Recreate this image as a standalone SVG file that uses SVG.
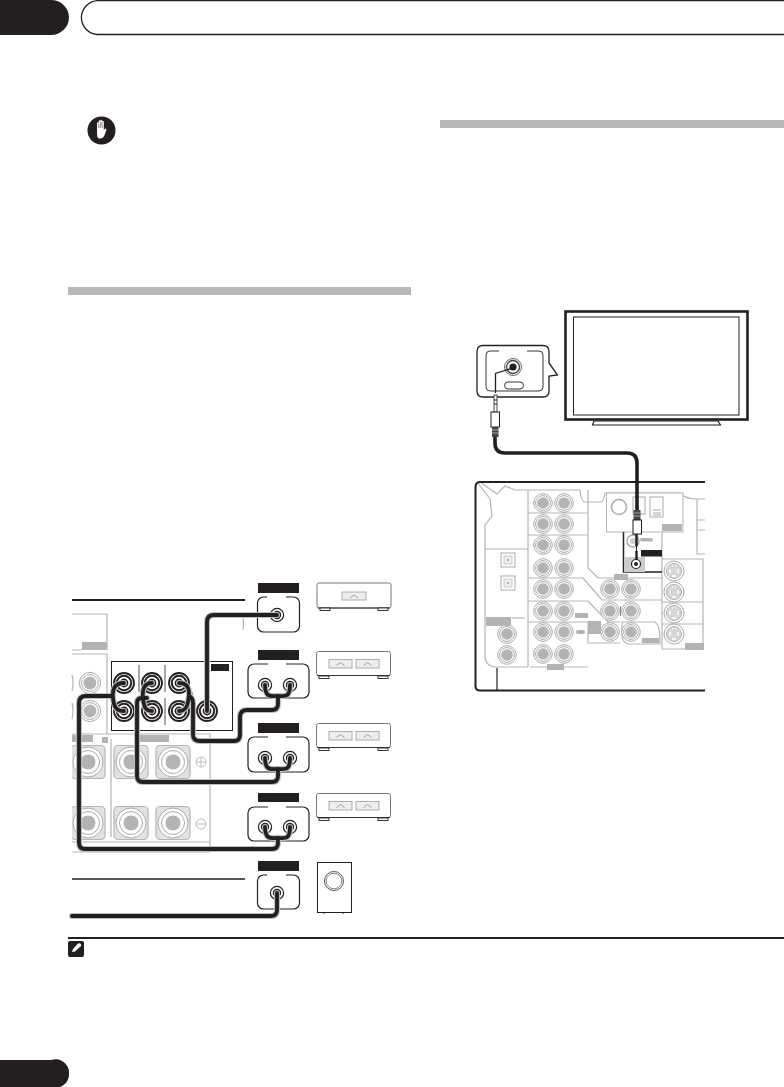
<svg xmlns="http://www.w3.org/2000/svg" xmlns:xlink="http://www.w3.org/1999/xlink" width="784" height="1087" viewBox="0 0 784 1087">
<style>
.g{fill:none;stroke:#b5b5b5;stroke-width:1.2}
.lab{fill:#b3b3b3}
.k{fill:#231f20}
.box{fill:#fff;stroke:#231f20;stroke-width:1.2}
.spk{fill:#fff;stroke:#777;stroke-width:1}
.meter{fill:#eee;stroke:#999;stroke-width:.8}
.foot{fill:#fff;stroke:#333;stroke-width:1}
.halo{fill:none;stroke:#bdbdbd;stroke-width:6;stroke-linecap:round;stroke-linejoin:round}
.cable{fill:none;stroke:#231f20;stroke-width:3.8;stroke-linecap:round;stroke-linejoin:round}
.cable2{fill:none;stroke:#231f20;stroke-width:3.6;stroke-linecap:round}
</style>
<defs>
<g id="gjack"><circle r="9.3" fill="#fff" stroke="#aaa" stroke-width="1"/><circle r="7.4" fill="#fff" stroke="#aaa" stroke-width="1"/><circle r="5.8" fill="#b3b3b3"/></g>
<g id="bigjack"><circle r="10.6" fill="#fff" stroke="#aaa" stroke-width="1"/><circle r="8.4" fill="#fff" stroke="#aaa" stroke-width="1"/><circle r="6.4" fill="#b3b3b3"/></g>
<g id="term"><rect x="-17" y="-16.5" width="34" height="33" rx="4" fill="#e2e2e2" stroke="#b5b5b5" stroke-width="1.2"/><circle r="15" fill="#fff" stroke="#aaa" stroke-width="1"/><circle r="11.5" fill="#fff" stroke="#aaa" stroke-width="1"/><circle r="8" fill="#b3b3b3" stroke="#fff" stroke-width="1"/></g>
<g id="kjack"><circle r="10" fill="#fff" stroke="#231f20" stroke-width="1.8"/><circle r="7.2" fill="#fff" stroke="#231f20" stroke-width="2"/><circle r="4.4" fill="#231f20"/></g>
<g id="sjack"><circle r="6.6" fill="#fff" stroke="#231f20" stroke-width="1.2"/><circle r="4.2" fill="#231f20"/></g>
<g id="svid"><circle r="10" fill="#fff" stroke="#aaa" stroke-width="1"/><circle r="7.6" fill="#d6d6d6" stroke="#aaa" stroke-width=".8"/><path d="M-4,-2v4M4,-2v4M-2,-5h1M1,-5h1M-2,5h4" stroke="#fff" stroke-width="1.4"/></g>
<g id="opt"><rect x="-7" y="-7" width="14" height="14" fill="#fff" stroke="#aaa"/><rect x="-4" y="-4" width="8" height="8" fill="#eee" stroke="#bbb" stroke-width=".7"/><circle r="1" fill="#999"/></g>
<g id="spk2"><rect class="spk" x="0.5" y="0.5" width="74" height="24" rx="2"/><rect class="foot" x="3" y="25" width="10" height="2.5"/><rect class="foot" x="62" y="25" width="10" height="2.5"/><path d="M1,24.5H74" stroke="#333" stroke-width="1"/><rect class="meter" x="13" y="8.5" width="23" height="8.5"/><rect class="meter" x="40" y="8.5" width="23" height="8.5"/><path d="M20.500,14.500l4,-3l4,3M47.500,14.500l4,-3l4,3" fill="none" stroke="#777" stroke-width=".7"/></g>
<path id="c1" d="M277,615H214Q207,615 207,622V711"/>
<path id="c2" d="M265,685C265,698 271,696 278,696C285,696 290,698 290,685M278,696V704Q278,710 272,710H247Q240,710 240,717V735Q240,741 234,741H200Q193,741 193,735V703Q193,698 189,696M179,683C190,683 190,692 188,702C187,708 185,711 179,711"/>
<path id="c3" d="M265,758C265,771 271,769 278,769C285,769 290,771 290,758M278,769V776Q278,782 272,782H143Q137,782 137,776V703Q137,698 142,698H147M152,683C144,683 142,690 143,698C144,708 146,711 152,711"/>
<path id="c4" d="M265,827C265,840 271,838 278,838C285,838 290,840 290,827M278,838V843Q278,849 272,849H85Q79,849 79,843V703Q79,696 86,696H110M124,683C114,683 112,690 113,698C114,707 116,711 124,711"/>
<path id="c5" d="M277,893V910Q277,916 271,916H72"/>
<path id="c6" d="M495,437V443Q495,453 505,453H627Q637,453 637,463V510"/>
</defs>
<rect width="784" height="1087" fill="#fff"/>

<g id="page-header">
<path class="k" d="M0,0H51A18,17.500 0 0 1 51,35H0Z"/>
<path d="M784,.7H97A17.500,17 0 0 0 97,34.500H784" fill="none" stroke="#231f20" stroke-width="1.300"/>
</g>
<g id="page-number"><path class="k" d="M0,1060H51A13.500,13.500 0 0 1 69,1073.500A13.500,13.500 0 0 1 51,1087H0Z"/></g>
<g id="caution-icon">
<circle cx="101.500" cy="130.500" r="14" class="k"/>
<path d="M97,133V123q.8,-1.300 1.700,0V121q.8,-1.300 1.700,0V120.500q.8,-1.300 1.700,0V121.500q.8,-1.300 1.700,0V130l1.400,-1.500q1.500,0 1.200,1.300l-1.800,5.200q-1.500,3.500 -4.500,3.500h-1.500q-1.600,-1 -1.600,-4.500Z" fill="#fff"/>
<path d="M98.700,123.500V128M100.400,122V128M102.100,122V128" stroke="#231f20" stroke-width=".5"/>
</g>
<g id="section-bars">
<rect x="68" y="287" width="343" height="8" fill="#b7b7b7"/>
<rect x="440" y="120" width="344" height="8" fill="#b7b7b7"/>
</g>
<g id="note">
<rect x="68" y="937" width="716" height="2" fill="#231f20"/>
<rect x="68" y="941" width="16" height="16" rx="2" class="k"/>
<path d="M72,952l1,-3l5,-5.500q2,-1 3,1q.5,1 -.5,2l-5.500,5Z" fill="#fff"/>
</g>

<g id="receiver-left">
<path class="g" d="M72,614H107V650M72,654H107V734M72,650H82"/>
<rect class="lab" x="82" y="642" width="25" height="8"/>
<use xlink:href="#bigjack" x="90" y="683"/>
<use xlink:href="#bigjack" x="90" y="711"/>
<path class="g" d="M72,675q2,8 0,16M72,703q2,8 0,16M72,734H210V847M111,739V837M72,842H210M72,852H210M243,617q1,7 0,13"/>
<rect class="lab" x="72" y="735" width="21" height="7"/>
<rect class="lab" x="102" y="737" width="6" height="6"/>
<rect class="lab" x="137" y="735" width="32" height="7"/>
<use xlink:href="#term" x="88" y="762"/><use xlink:href="#term" x="131" y="762"/><use xlink:href="#term" x="173" y="762"/>
<use xlink:href="#term" x="88" y="823"/><use xlink:href="#term" x="131" y="823"/><use xlink:href="#term" x="173" y="823"/>
<rect x="60" y="740" width="12" height="105" fill="#fff"/>
<circle cx="201" cy="762" r="5" fill="none" stroke="#bbb"/><path d="M196,762H206M201,757V767" stroke="#bbb"/>
<circle cx="201" cy="824" r="5" fill="none" stroke="#bbb"/><path d="M196,824H206" stroke="#bbb"/>
<path d="M72,600H245" stroke="#231f20" stroke-width="2"/>
<path d="M72,879H245" stroke="#231f20" stroke-width="1.600"/>
</g>
<g id="output-block">
<rect x="111.500" y="661.500" width="121" height="69" fill="#fff" stroke="#231f20" stroke-width="1"/>
<rect class="k" x="211" y="664" width="18" height="7"/>
<path d="M139,665V692M139,698V725M165,665V692M165,698V725M192,692V697" stroke="#231f20" stroke-width=".8"/>
<use xlink:href="#kjack" x="124" y="683"/><use xlink:href="#kjack" x="152" y="683"/><use xlink:href="#kjack" x="179" y="683"/>
<use xlink:href="#kjack" x="124" y="711"/><use xlink:href="#kjack" x="152" y="711"/><use xlink:href="#kjack" x="179" y="711"/><use xlink:href="#kjack" x="207" y="711"/>
</g>
<g id="center-speaker">
<rect class="k" x="258" y="583" width="41" height="10"/>
<rect class="box" x="257.500" y="597" width="42" height="35" rx="6"/><path d="M267,597H286" stroke="#fff" stroke-width="2"/>
<use xlink:href="#sjack" x="277" y="615"/>
<rect class="spk" x="317" y="583" width="74" height="25" rx="2"/><path d="M318,608H390" stroke="#333"/><rect class="foot" x="320" y="608" width="10" height="2.500"/><rect class="foot" x="378" y="608" width="10" height="2.500"/>
<rect class="meter" x="342" y="592" width="24" height="8"/><path d="M350,598l4,-3l4,3" fill="none" stroke="#777" stroke-width=".7"/>
</g>
<g id="front-speaker">
<rect class="k" x="258" y="650" width="41" height="10"/>
<rect class="box" x="248" y="664" width="61" height="34" rx="6"/><path d="M268,664H286" stroke="#fff" stroke-width="2"/>
<use xlink:href="#sjack" x="265" y="685"/><use xlink:href="#sjack" x="290" y="685"/>
<use xlink:href="#spk2" x="316" y="651"/>
</g>
<g id="surround-speaker">
<rect class="k" x="258" y="723" width="41" height="10"/>
<rect class="box" x="248" y="737" width="61" height="35" rx="6"/><path d="M268,737H286" stroke="#fff" stroke-width="2"/>
<use xlink:href="#sjack" x="265" y="758"/><use xlink:href="#sjack" x="290" y="758"/>
<use xlink:href="#spk2" x="316" y="723"/>
</g>
<g id="back-speaker">
<rect class="k" x="258" y="793" width="41" height="9"/>
<rect class="box" x="248" y="807" width="61" height="34" rx="6"/><path d="M268,807H286" stroke="#fff" stroke-width="2"/>
<use xlink:href="#sjack" x="265" y="827"/><use xlink:href="#sjack" x="290" y="827"/>
<use xlink:href="#spk2" x="316" y="793"/>
</g>
<g id="subwoofer">
<rect class="k" x="258" y="861" width="41" height="10"/>
<rect class="box" x="257.500" y="875" width="42" height="34" rx="6"/><path d="M267,875H286" stroke="#fff" stroke-width="2"/>
<use xlink:href="#sjack" x="277" y="893"/>
<rect x="317.500" y="862.500" width="34" height="50" fill="#fff" stroke="#231f20"/>
<circle cx="334" cy="881" r="9.500" fill="#fff" stroke="#555"/><circle cx="334" cy="881" r="7.800" fill="#fff" stroke="#888"/>
<path d="M324,913v1M343,913v1" stroke="#555"/>
</g>

<g id="tv">
<rect x="565.500" y="311.500" width="182" height="108" fill="#fff" stroke="#231f20" stroke-width="2.600"/>
<rect x="573.500" y="317" width="165.500" height="98" fill="#fff" stroke="#231f20" stroke-width="1"/>
<path d="M594,421H718L720.500,425H592.500Z" fill="#fff" stroke="#231f20" stroke-width="1.200"/>
</g>
<g id="tv-callout">
<path d="M483,345.500H543Q549,345.500 549,351.500V363L557.500,375L549,376V391Q549,397 543,397H483Q477,397 477,391V351.500Q477,345.500 483,345.500Z" fill="#fff" stroke="#231f20" stroke-width="1.300"/>
<path d="M499,351H490Q486,351 486,355V387Q486,391 490,391H539Q543,391 543,387V355Q543,351 539,351H527" fill="none" stroke="#231f20" stroke-width=".9"/>
<circle cx="513" cy="367" r="8.500" fill="#fff" stroke="#666" stroke-width="1"/><circle cx="513" cy="367" r="6.500" fill="#fff" stroke="#444" stroke-width="1.400"/><circle cx="513" cy="367" r="3.600" fill="#231f20"/>
<rect x="504.500" y="382" width="19" height="7" rx="3.500" fill="#fff" stroke="#231f20" stroke-width=".9"/>
<path d="M511,368.500L495.500,373.500V393" fill="none" stroke="#231f20" stroke-width="1.300"/>
</g>

<g id="receiver-right">
<path class="g" d="M478,483L490,499L492,516L485,525V655Q485,667 497,667H528M480,482L497,494L505,486L515,490H580Q581,502 585,502H600Q604,502 605,493H680Q685,499 697,499H705M528,490V667M528,513H588M528,535H588M528,578H583M528,601H588M528,622H588M485,549H528M588,490V568L598,578H662M583,578L602,600H662M588,601L608,622H620M530,667H588M588,622V643H620M622,622H655Q660,625 660,640V644H628Q622,642 622,635ZM697,499V554H705M697,520H705M697,530H705M662,532V649H703V559H662M662,602H703M662,624H703"/>
<rect x="606.500" y="493" width="76.500" height="39" fill="#fff" stroke="#b5b5b5"/>
<circle cx="619" cy="507" r="7.500" fill="#fff" stroke="#aaa" stroke-width="1.500"/>
<rect x="633" y="497" width="12" height="17" fill="#fff" stroke="#aaa"/><rect x="650" y="497" width="13" height="20" fill="#fff" stroke="#aaa"/><path d="M636,514h6M653,510h8M653,513h8M653,515h8" stroke="#aaa"/>
<rect class="lab" x="662" y="524" width="20" height="7"/>
<use xlink:href="#gjack" x="543" y="503"/><use xlink:href="#gjack" x="564" y="503"/>
<use xlink:href="#gjack" x="543" y="524"/><use xlink:href="#gjack" x="564" y="524"/>
<use xlink:href="#gjack" x="543" y="545"/><use xlink:href="#gjack" x="564" y="545"/>
<use xlink:href="#gjack" x="543" y="568"/><use xlink:href="#gjack" x="564" y="568"/>
<use xlink:href="#gjack" x="543" y="589"/><use xlink:href="#gjack" x="564" y="589"/>
<use xlink:href="#gjack" x="543" y="611"/><use xlink:href="#gjack" x="564" y="611"/>
<use xlink:href="#gjack" x="543" y="632"/><use xlink:href="#gjack" x="564" y="632"/>
<use xlink:href="#gjack" x="543" y="654"/><use xlink:href="#gjack" x="564" y="654"/>
<use xlink:href="#gjack" x="610" y="589"/><use xlink:href="#gjack" x="631" y="589"/>
<use xlink:href="#gjack" x="610" y="611"/><use xlink:href="#gjack" x="631" y="611"/>
<use xlink:href="#gjack" x="610" y="632"/><use xlink:href="#gjack" x="631" y="632"/>
<use xlink:href="#gjack" x="507" y="634"/><use xlink:href="#gjack" x="507" y="655"/>
<path d="M620.500,606V616" stroke="#888"/>
<use xlink:href="#opt" x="508" y="560"/><use xlink:href="#opt" x="508" y="583"/>
<use xlink:href="#svid" x="674" y="571"/><use xlink:href="#svid" x="674" y="592"/><use xlink:href="#svid" x="674" y="613"/><use xlink:href="#svid" x="674" y="634"/>
<rect class="lab" x="685" y="643" width="19" height="7"/>
<rect class="lab" x="614" y="574" width="14" height="6"/>
<rect class="lab" x="575" y="613" width="13" height="5"/>
<rect class="lab" x="588" y="621" width="13" height="13"/>
<rect class="lab" x="576" y="630" width="9" height="4" rx="2"/>
<rect class="lab" x="547" y="664" width="17" height="6"/>
<rect class="lab" x="642" y="638" width="17" height="5"/>
<rect class="lab" x="486" y="617" width="25" height="9"/>
<path class="g" d="M512,618H525"/>
<path d="M705,482H480Q475.500,482 475.500,487V686Q475.500,690.500 480,690.500H705" fill="none" stroke="#231f20" stroke-width="2"/>
<path d="M497,668V690" stroke="#231f20" stroke-width="1.200"/>
</g>
<g id="ir-block">
<path d="M623.500,532V572H662" fill="none" stroke="#231f20" stroke-width="1.500"/>
<rect x="624" y="557" width="21" height="15" fill="#ccc"/>
<circle cx="633" cy="541" r="6" fill="#fff" stroke="#aaa" stroke-width="1.500"/><circle cx="633" cy="541" r="3" fill="#ccc"/>
<rect class="lab" x="640" y="538" width="13" height="3.500" rx="1.700"/>
<rect class="k" x="641" y="550" width="21" height="6.500"/>
<circle cx="636" cy="564" r="4.500" fill="#fff" stroke="#231f20" stroke-width="1.200"/><circle cx="636" cy="564" r="2" fill="#231f20"/>
</g>

<g id="connectors">
<g class="halo">
<use xlink:href="#c1"/><use xlink:href="#c2"/><use xlink:href="#c3"/><use xlink:href="#c4"/><use xlink:href="#c5"/>
</g>
<g class="cable">
<use xlink:href="#c1"/><use xlink:href="#c2"/><use xlink:href="#c3"/><use xlink:href="#c4"/><use xlink:href="#c5"/>
</g>
<g class="cable2"><use xlink:href="#c6"/></g>
<g id="plug-tv">
<rect x="494" y="395" width="3" height="17" fill="#fff" stroke="#231f20" stroke-width=".8"/>
<path d="M494,400h3M494,404h3" stroke="#231f20"/>
<rect x="491" y="412" width="8.500" height="15" fill="#fff" stroke="#231f20"/>
<rect x="492" y="427" width="6.500" height="10" fill="#444"/>
<path d="M492,430h6.500M492,433h6.500" stroke="#ccc" stroke-width=".7"/>
</g>
<g id="plug-receiver">
<rect x="633.500" y="510" width="7" height="10" fill="#444"/>
<path d="M633.500,513h7M633.500,516h7" stroke="#ccc" stroke-width=".7"/>
<rect x="633" y="520" width="8.500" height="14" fill="#fff" stroke="#231f20"/>
<path d="M636.500,534V546M636.500,551V560" stroke="#231f20" stroke-width="2.400"/>
<path d="M636.500,546V551" stroke="#231f20" stroke-width="1"/>
</g>
</g>
</svg>
